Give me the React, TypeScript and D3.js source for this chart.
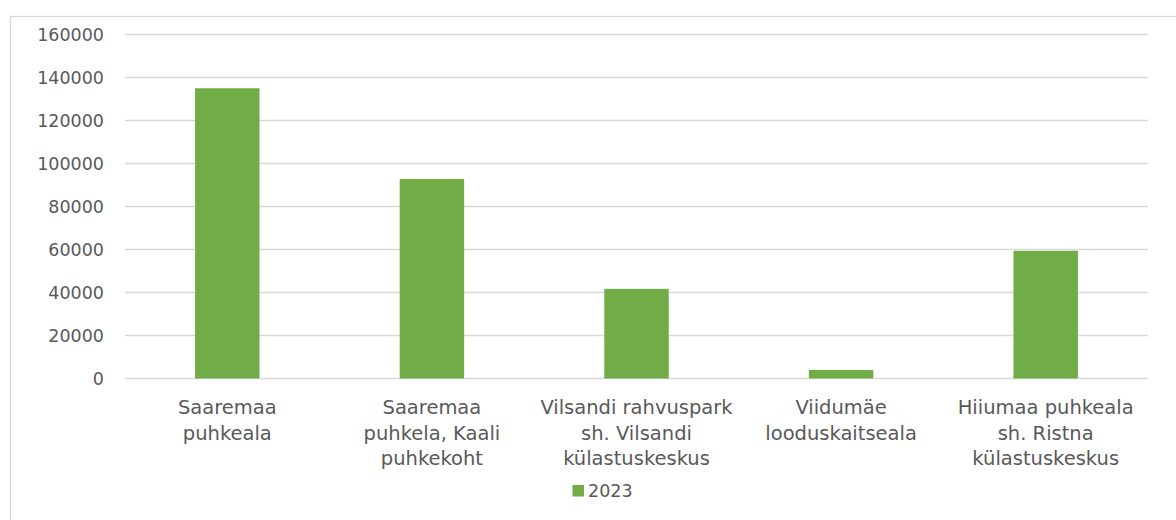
import { useEffect, useRef } from "react"
import * as d3 from "d3"

// Category labels, with line breaks as they wrap in the chart
const categories = [
  "Saaremaa\npuhkeala",
  "Saaremaa\npuhkela, Kaali\npuhkekoht",
  "Vilsandi rahvuspark\nsh. Vilsandi\nkülastuskeskus",
  "Viidumäe\nlooduskaitseala",
  "Hiiumaa puhkeala\nsh. Ristna\nkülastuskeskus",
]
const values2023 = [135000, 92800, 41700, 4000, 59400]
const yTicks = [0, 20000, 40000, 60000, 80000, 100000, 120000, 140000, 160000]
const seriesName = "2023"

export default function App() {
  const svgRef = useRef<SVGSVGElement>(null)

  useEffect(() => {
    if (!svgRef.current) return
    const svg = d3.select(svgRef.current)
    svg.selectAll("*").remove()

    const W = 1176
    const H = 520
    const left = 125
    const right = 1148
    const top = 34.5
    const bottom = 378.5
    const font = "'DejaVu Sans', sans-serif"
    const textColor = "#595959"
    const gridColor = "#d9d9d9"
    const barColor = "#70ad47"

    svg.attr("width", W).attr("height", H)

    // chart area border (only top/left visible in the frame)
    svg
      .append("rect")
      .attr("x", 10.5)
      .attr("y", 16.5)
      .attr("width", W + 20)
      .attr("height", H + 20)
      .attr("fill", "#fff")
      .attr("stroke", gridColor)
      .attr("stroke-width", 1.3)

    const x = d3
      .scaleBand()
      .domain(categories)
      .range([left, right])
      .paddingInner(0.685)
      .paddingOuter(0.3425)

    const y = d3.scaleLinear().domain([0, 160000]).range([bottom, top])

    // gridlines
    svg
      .append("g")
      .selectAll("line")
      .data(yTicks)
      .enter()
      .append("line")
      .attr("x1", left)
      .attr("x2", right)
      .attr("y1", (d) => y(d))
      .attr("y2", (d) => y(d))
      .attr("stroke", gridColor)
      .attr("stroke-width", 1.3)

    // y tick labels
    svg
      .append("g")
      .selectAll("text")
      .data(yTicks)
      .enter()
      .append("text")
      .attr("x", 104)
      .attr("y", (d) => y(d))
      .attr("dy", "0.36em")
      .attr("text-anchor", "end")
      .attr("font-family", font)
      .attr("font-size", 17.5)
      .attr("fill", textColor)
      .text((d) => String(d))

    // bars
    svg
      .append("g")
      .selectAll("rect")
      .data(values2023)
      .enter()
      .append("rect")
      .attr("x", (_, i) => x(categories[i]) || 0)
      .attr("y", (d) => y(d))
      .attr("width", x.bandwidth())
      .attr("height", (d) => bottom - y(d))
      .attr("fill", barColor)

    // category labels
    const labels = svg
      .append("g")
      .selectAll("text")
      .data(categories)
      .enter()
      .append("text")
      .attr("text-anchor", "middle")
      .attr("font-family", font)
      .attr("font-size", 19.5)
      .attr("fill", textColor)

    labels
      .selectAll("tspan")
      .data((d) => d.split("\n").map((line) => ({ line, cat: d })))
      .enter()
      .append("tspan")
      .attr("x", (d) => (x(d.cat) || 0) + x.bandwidth() / 2)
      .attr("y", (_, i) => 414 + i * 25.7)
      .text((d) => d.line)

    // legend
    const lg = svg.append("g")
    lg.append("rect")
      .attr("x", 572.5)
      .attr("y", 485)
      .attr("width", 11.5)
      .attr("height", 11.5)
      .attr("fill", barColor)
    lg.append("text")
      .attr("x", 588)
      .attr("y", 491)
      .attr("dy", "0.36em")
      .attr("font-family", font)
      .attr("font-size", 17.5)
      .attr("fill", textColor)
      .text(seriesName)
  }, [])

  return (
    <div style={{ position: "absolute", left: 0, top: 0 }}>
      <svg ref={svgRef} style={{ display: "block" }} />
    </div>
  )
}
